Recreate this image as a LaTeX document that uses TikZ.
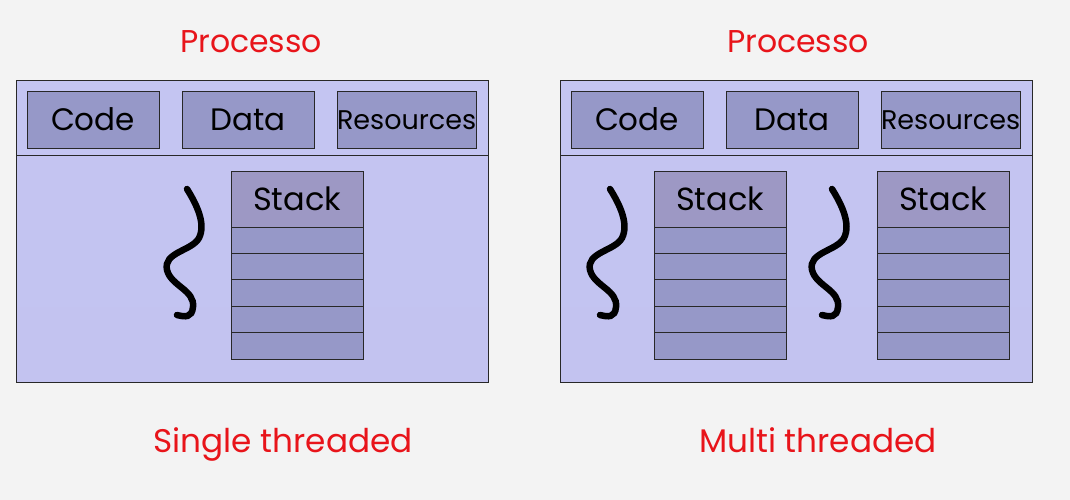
\documentclass[tikz,border=0pt]{standalone}
\usepackage{fontspec}
\setmainfont{Poppins}
\definecolor{bgc}{RGB}{243,243,243}
\definecolor{bgwarm}{RGB}{248,244,243}
\definecolor{outertop}{RGB}{196,197,242}
\definecolor{outermid}{RGB}{203,196,238}
\definecolor{outerbot}{RGB}{195,195,240}
\definecolor{boxfill}{RGB}{150,152,200}
\definecolor{stackhead}{RGB}{157,152,196}
\definecolor{edge}{RGB}{40,40,40}
\definecolor{titlered}{RGB}{232,20,26}
\tikzset{
  outerbox/.style={draw=edge, line width=0.9pt, top color=outertop, middle color=outermid, bottom color=outerbot,
    minimum width=472pt, minimum height=302pt, inner sep=0pt, outer sep=0pt, anchor=north west},
  segbox/.style={draw=edge, line width=0.9pt, fill=boxfill, minimum width=132pt, minimum height=57pt,
    inner sep=0pt, outer sep=0pt, anchor=north west, text height=21.5pt, text depth=0pt,
    font=\fontsize{31}{32}\selectfont},
  reslabel/.style={font=\fontsize{27}{28}\selectfont, text height=19pt},
  headbox/.style={draw=edge, line width=0.9pt, fill=stackhead, minimum width=132pt, minimum height=56pt,
    inner sep=0pt, outer sep=0pt, anchor=north west, text height=22pt, text depth=0pt,
    font=\fontsize{32}{33}\selectfont},
  cellbox/.style={draw=edge, line width=0.9pt, fill=boxfill, minimum width=132pt, minimum height=26.4pt,
    inner sep=0pt, outer sep=0pt, anchor=north west},
  thread/.style={line width=6.5pt, line cap=round, black},
  divider/.style={draw=edge, line width=0.9pt},
  redtitle/.style={text=titlered, anchor=base, inner sep=0pt, font=\fontsize{31.5}{33}\selectfont},
  redfoot/.style={text=titlered, anchor=base, inner sep=0pt, font=\fontsize{32.7}{34}\selectfont}
}
\newcommand\mystack[3]{% name, x, y
  \node[headbox] (#1h) at (#2,#3) {Stack};
  \node[cellbox] (#1c1) at (#1h.south west) {};
  \node[cellbox] (#1c2) at (#1c1.south west) {};
  \node[cellbox] (#1c3) at (#1c2.south west) {};
  \node[cellbox] (#1c4) at (#1c3.south west) {};
  \node[cellbox] (#1c5) at (#1c4.south west) {};
}
\newcommand\mythread[1]{%
  \draw[thread, xshift=#1pt] (187,189) .. controls (197,205) and (206,224) .. (199,238)
     .. controls (192,251) and (163,252) .. (167,270)
     .. controls (171,286) and (195,290) .. (193,307)
     .. controls (192,318) and (185,317) .. (177,315);
}
\begin{document}
\begin{tikzpicture}[x=1pt,y=-1pt]
\useasboundingbox (0,0) rectangle (1070,499);
\shade[top color=bgc, middle color=bgwarm, bottom color=bgc, shading angle=0] (0,0) rectangle (1070,499);
\fill[bgc] (0,330) rectangle (1070,499);

% left process
\node[redtitle] (t1) at (251,52) {Processo};
\node[outerbox] (L) at (16,80) {};
\coordinate (Ld1) at (16,155);
\coordinate (Ld2) at (488,155);
\draw[divider] (Ld1) -- (Ld2);
\node[segbox] (Lcode) at (27,91) {Code};
\node[segbox] (Ldata) at (182,91) {Data};
\node[segbox, reslabel] (Lres) at (337,91) {Resources};
\mystack{Ls}{231}{171}
\mythread{0}
\node[redfoot] (s1) at (283,452) {Single threaded};

% right process
\node[redtitle] (t2) at (798,52) {Processo};
\node[outerbox] (R) at (560,80) {};
\coordinate (Rd1) at (560,155);
\coordinate (Rd2) at (1032,155);
\draw[divider] (Rd1) -- (Rd2);
\node[segbox] (Rcode) at (571,91) {Code};
\node[segbox] (Rdata) at (726,91) {Data};
\node[segbox, reslabel] (Rres) at (881,91) {Resources};
\mystack{Rsa}{654}{171}
\mystack{Rsb}{877}{171}
\mythread{423}
\mythread{645}
\node[redfoot] (s2) at (818,452) {Multi threaded};
\end{tikzpicture}
\end{document}
